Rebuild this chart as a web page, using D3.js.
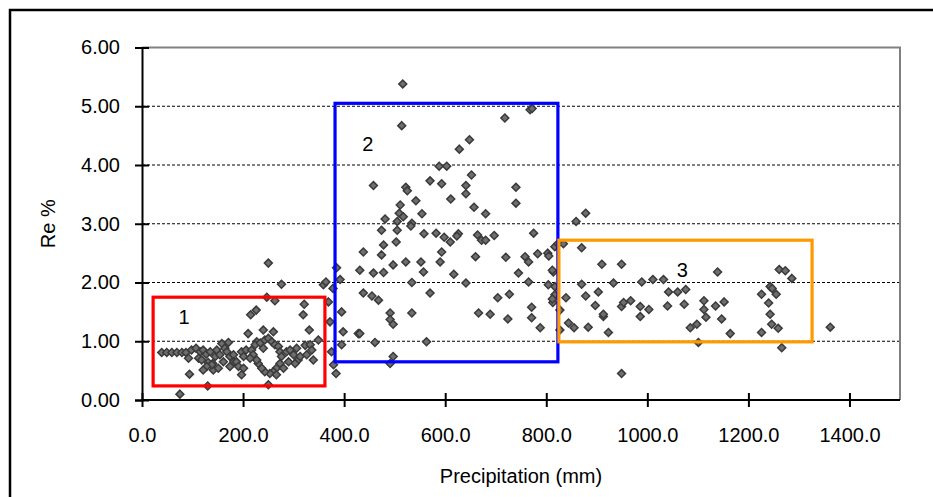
<!DOCTYPE html>
<html>
<head>
<meta charset="utf-8">
<script src="https://cdn.jsdelivr.net/npm/d3@7"></script>
<style>
  body { margin: 0; background: #fff; }
  text { font-family: "Liberation Sans", Arial, sans-serif; fill: #000; }
</style>
</head>
<body>
<svg id="chart" width="933" height="497"></svg>
<script>
// Precipitation (mm) vs Re %, grouped by the boxed region
const precipRegion1 = [39, 49, 59, 69, 79, 87, 92, 94, 75, 98, 107, 115, 121, 112, 118, 127, 135, 131, 140, 145,
  148, 154, 158, 164, 171, 168, 174, 181, 182, 187, 191, 197, 201, 141, 151, 138, 128, 161, 174, 121,
  130, 197, 206, 201, 210, 215, 226, 227, 240, 247, 263, 260, 276, 217, 224, 234, 240, 243, 250, 257,
  263, 270, 273, 276, 273, 266, 260, 253, 243, 237, 230, 227, 220, 214, 250, 266, 280, 286, 293, 300,
  306, 309, 303, 290, 313, 323, 319, 321, 331, 333, 339, 349, 359, 364, 369, 372, 375, 379, 384, 395,
  398, 395, 428, 336, 326, 250, 385, 392, 378];
const rePctRegion1 = [0.81, 0.81, 0.81, 0.81, 0.81, 0.81, 0.71, 0.44, 0.10, 0.85, 0.88, 0.82, 0.85, 0.71, 0.68, 0.78, 0.82, 0.64, 0.62, 0.74,
  0.85, 0.77, 0.96, 0.88, 0.98, 0.82, 0.74, 0.77, 0.65, 0.65, 0.57, 0.43, 0.54, 0.51, 0.54, 0.60, 0.57, 0.65, 0.57, 0.51,
  0.24, 0.82, 0.85, 0.74, 1.13, 1.45, 1.53, 0.99, 1.19, 1.75, 1.69, 1.16, 1.97, 0.85, 0.94, 0.97, 0.88, 1.02, 1.05, 0.99,
  0.94, 0.91, 0.82, 0.74, 0.62, 0.54, 0.48, 0.45, 0.48, 0.54, 0.62, 0.68, 0.77, 0.71, 0.26, 0.43, 0.54, 0.82, 0.85, 0.77,
  0.88, 0.68, 0.62, 0.65, 0.74, 0.93, 1.45, 1.63, 1.19, 0.94, 0.68, 1.02, 1.96, 2.01, 1.67, 1.33, 0.82, 0.60, 0.45, 1.50,
  1.16, 0.94, 1.13, 0.85, 0.77, 2.33, 2.25, 2.05, 1.90];

const precipRegion2 = [516, 514, 718, 768, 772, 648, 628, 588, 603, 652, 458, 522, 525, 570, 593, 641, 641, 740, 740, 542,
  611, 511, 509, 517, 481, 505, 534, 532, 474, 505, 554, 657, 680, 558, 582, 598, 610, 626, 623, 664,
  672, 680, 697, 775, 478, 503, 593, 474, 438, 497, 458, 478, 431, 522, 552, 557, 590, 617, 660, 720,
  758, 765, 783, 803, 805, 745, 765, 814, 804, 534, 641, 438, 455, 468, 570, 491, 491, 497, 534, 431,
  461, 563, 497, 491, 666, 689, 704, 727, 724, 771, 771, 788, 813, 817, 817, 823, 812, 817, 827, 827, 812];
const rePctRegion2 = [5.38, 4.67, 4.80, 4.94, 4.96, 4.43, 4.27, 3.98, 3.98, 3.83, 3.65, 3.62, 3.56, 3.73, 3.68, 3.65, 3.51, 3.62, 3.35, 3.39,
  3.42, 3.32, 3.18, 3.12, 3.08, 3.04, 3.01, 2.96, 2.89, 2.89, 3.17, 3.28, 3.17, 2.83, 2.84, 2.77, 2.69, 2.83, 2.79, 2.81,
  2.72, 2.72, 2.80, 2.84, 2.64, 2.69, 2.52, 2.47, 2.52, 2.30, 2.16, 2.17, 2.21, 2.35, 2.35, 2.18, 2.35, 2.14, 2.44, 2.43,
  2.44, 2.35, 2.49, 2.50, 2.45, 2.16, 2.01, 2.18, 1.96, 2.00, 1.99, 1.82, 1.77, 1.70, 1.82, 1.48, 1.37, 1.29, 1.48, 1.13,
  0.98, 0.99, 0.74, 0.62, 1.48, 1.46, 1.74, 1.80, 1.38, 1.58, 1.40, 1.23, 1.66, 1.93, 2.61, 2.66, 2.21, 1.79, 1.53, 1.19, 1.72];

const precipRegion3 = [859, 878, 870, 834, 910, 949, 870, 933, 989, 1011, 1032, 1139, 1261, 1273, 1286, 839, 878, 903, 897, 913,
  913, 844, 855, 883, 923, 949, 953, 967, 986, 986, 1003, 1040, 1042, 1060, 1076, 1073, 1085, 1098, 1101, 1112,
  1112, 1116, 1135, 1152, 1147, 1164, 949, 1226, 1243, 1247, 1255, 1240, 1243, 1246, 1259, 1226, 1266, 1362];
const rePctRegion3 = [3.04, 3.18, 2.59, 2.66, 2.31, 2.31, 1.97, 1.99, 2.01, 2.05, 2.05, 2.18, 2.22, 2.20, 2.07, 1.74, 1.77, 1.84, 1.61, 1.42,
  1.46, 1.31, 1.23, 1.24, 1.15, 1.59, 1.66, 1.69, 1.59, 1.42, 1.54, 1.60, 1.84, 1.84, 1.88, 1.63, 1.23, 1.29, 0.98, 1.69,
  1.54, 1.41, 1.60, 1.67, 1.38, 1.13, 0.45, 1.80, 1.93, 1.90, 1.80, 1.65, 1.46, 1.29, 1.22, 1.15, 0.89, 1.24];

// annotation boxes (data units) and their number labels
const boxNames = ["1", "2", "3"];
const boxPrecip = [[22, 362], [382, 823], [825, 1326]];
const boxRe = [[0.24, 1.75], [0.65, 5.05], [0.99, 2.72]];
const boxLabelAt = [[83, 1.41], [447, 4.36], [1069, 2.21]];
const boxColors = ["#ff0000", "#0000ff", "#ff9900"];

const xTicks = [0, 200, 400, 600, 800, 1000, 1200, 1400];
const yTicks = [0, 1, 2, 3, 4, 5, 6];

const svg = d3.select("#chart");
const plot = { left: 142, right: 900, top: 47.5, bottom: 400 };
const fontSize = "20px";

const x = d3.scaleLinear().domain([0, 1500]).range([plot.left, plot.right]);
const y = d3.scaleLinear().domain([0, 6]).range([plot.bottom, plot.top]);

// outer chart frame (runs off the right and bottom)
svg.append("rect")
  .attr("x", 10).attr("y", 10)
  .attr("width", 960).attr("height", 520)
  .attr("fill", "none")
  .attr("stroke", "#000")
  .attr("stroke-width", 2.5);

// dashed gridlines
svg.append("g")
  .selectAll("line")
  .data(yTicks.filter(d => d > 0 && d < 6))
  .join("line")
  .attr("x1", plot.left).attr("x2", plot.right)
  .attr("y1", d => y(d)).attr("y2", d => y(d))
  .attr("stroke", "#000")
  .attr("stroke-width", 1)
  .attr("stroke-dasharray", "3,2");

// plot area border, top and right
svg.append("path")
  .attr("d", `M${plot.left},${plot.top}H${plot.right}V${plot.bottom}`)
  .attr("fill", "none")
  .attr("stroke", "#808080")
  .attr("stroke-width", 2);

// points
const points = [];
[[precipRegion1, rePctRegion1], [precipRegion2, rePctRegion2], [precipRegion3, rePctRegion3]]
  .forEach(([xs, ys]) => xs.forEach((p, i) => points.push({ precip: p, re: ys[i] })));

const diamond = d3.symbol(d3.symbolDiamond2, 40);
svg.append("g")
  .selectAll("path")
  .data(points)
  .join("path")
  .attr("d", diamond)
  .attr("transform", d => `translate(${x(d.precip)},${y(d.re)})`)
  .attr("fill", "#6e6e6e")
  .attr("stroke", "#3a3a3a")
  .attr("stroke-width", 1.5);

// region boxes
const boxes = boxNames.map((name, i) => ({
  name, px: boxPrecip[i], re: boxRe[i], at: boxLabelAt[i], color: boxColors[i]
}));

svg.append("g")
  .selectAll("rect")
  .data(boxes)
  .join("rect")
  .attr("x", d => x(d.px[0]))
  .attr("y", d => y(d.re[1]))
  .attr("width", d => x(d.px[1]) - x(d.px[0]))
  .attr("height", d => y(d.re[0]) - y(d.re[1]))
  .attr("fill", "none")
  .attr("stroke", d => d.color)
  .attr("stroke-width", 3.2);

svg.append("g")
  .selectAll("text")
  .data(boxes)
  .join("text")
  .attr("x", d => x(d.at[0]))
  .attr("y", d => y(d.at[1]))
  .attr("dy", "0.35em")
  .attr("text-anchor", "middle")
  .style("font-size", fontSize)
  .text(d => d.name);

// axes with cross ticks
const xAxis = svg.append("g")
  .attr("transform", `translate(0,${plot.bottom})`)
  .call(d3.axisBottom(x).tickValues(xTicks).tickFormat(d3.format(".1f"))
    .tickSize(7).tickPadding(21));
xAxis.select(".domain").attr("d", `M${plot.left},0H${plot.right}`);
xAxis.selectAll(".tick line").attr("y1", -7);

const yAxis = svg.append("g")
  .attr("transform", `translate(${plot.left},0)`)
  .call(d3.axisLeft(y).tickValues(yTicks).tickFormat(d3.format(".2f"))
    .tickSize(7).tickPadding(15));
yAxis.selectAll(".tick line").attr("x1", 7);

svg.selectAll(".domain, .tick line")
  .attr("stroke", "#000")
  .attr("stroke-width", 2);
svg.selectAll(".tick text")
  .style("font-size", fontSize)
  .style("font-family", "'Liberation Sans', Arial, sans-serif")
  .attr("fill", "#000");

// axis titles
svg.append("text")
  .attr("x", (plot.left + plot.right) / 2)
  .attr("y", 483)
  .attr("text-anchor", "middle")
  .style("font-size", fontSize)
  .text("Precipitation (mm)");

svg.append("text")
  .attr("transform", `translate(55,${(plot.top + plot.bottom) / 2}) rotate(-90)`)
  .attr("text-anchor", "middle")
  .style("font-size", fontSize)
  .text("Re %");
</script>
</body>
</html>
